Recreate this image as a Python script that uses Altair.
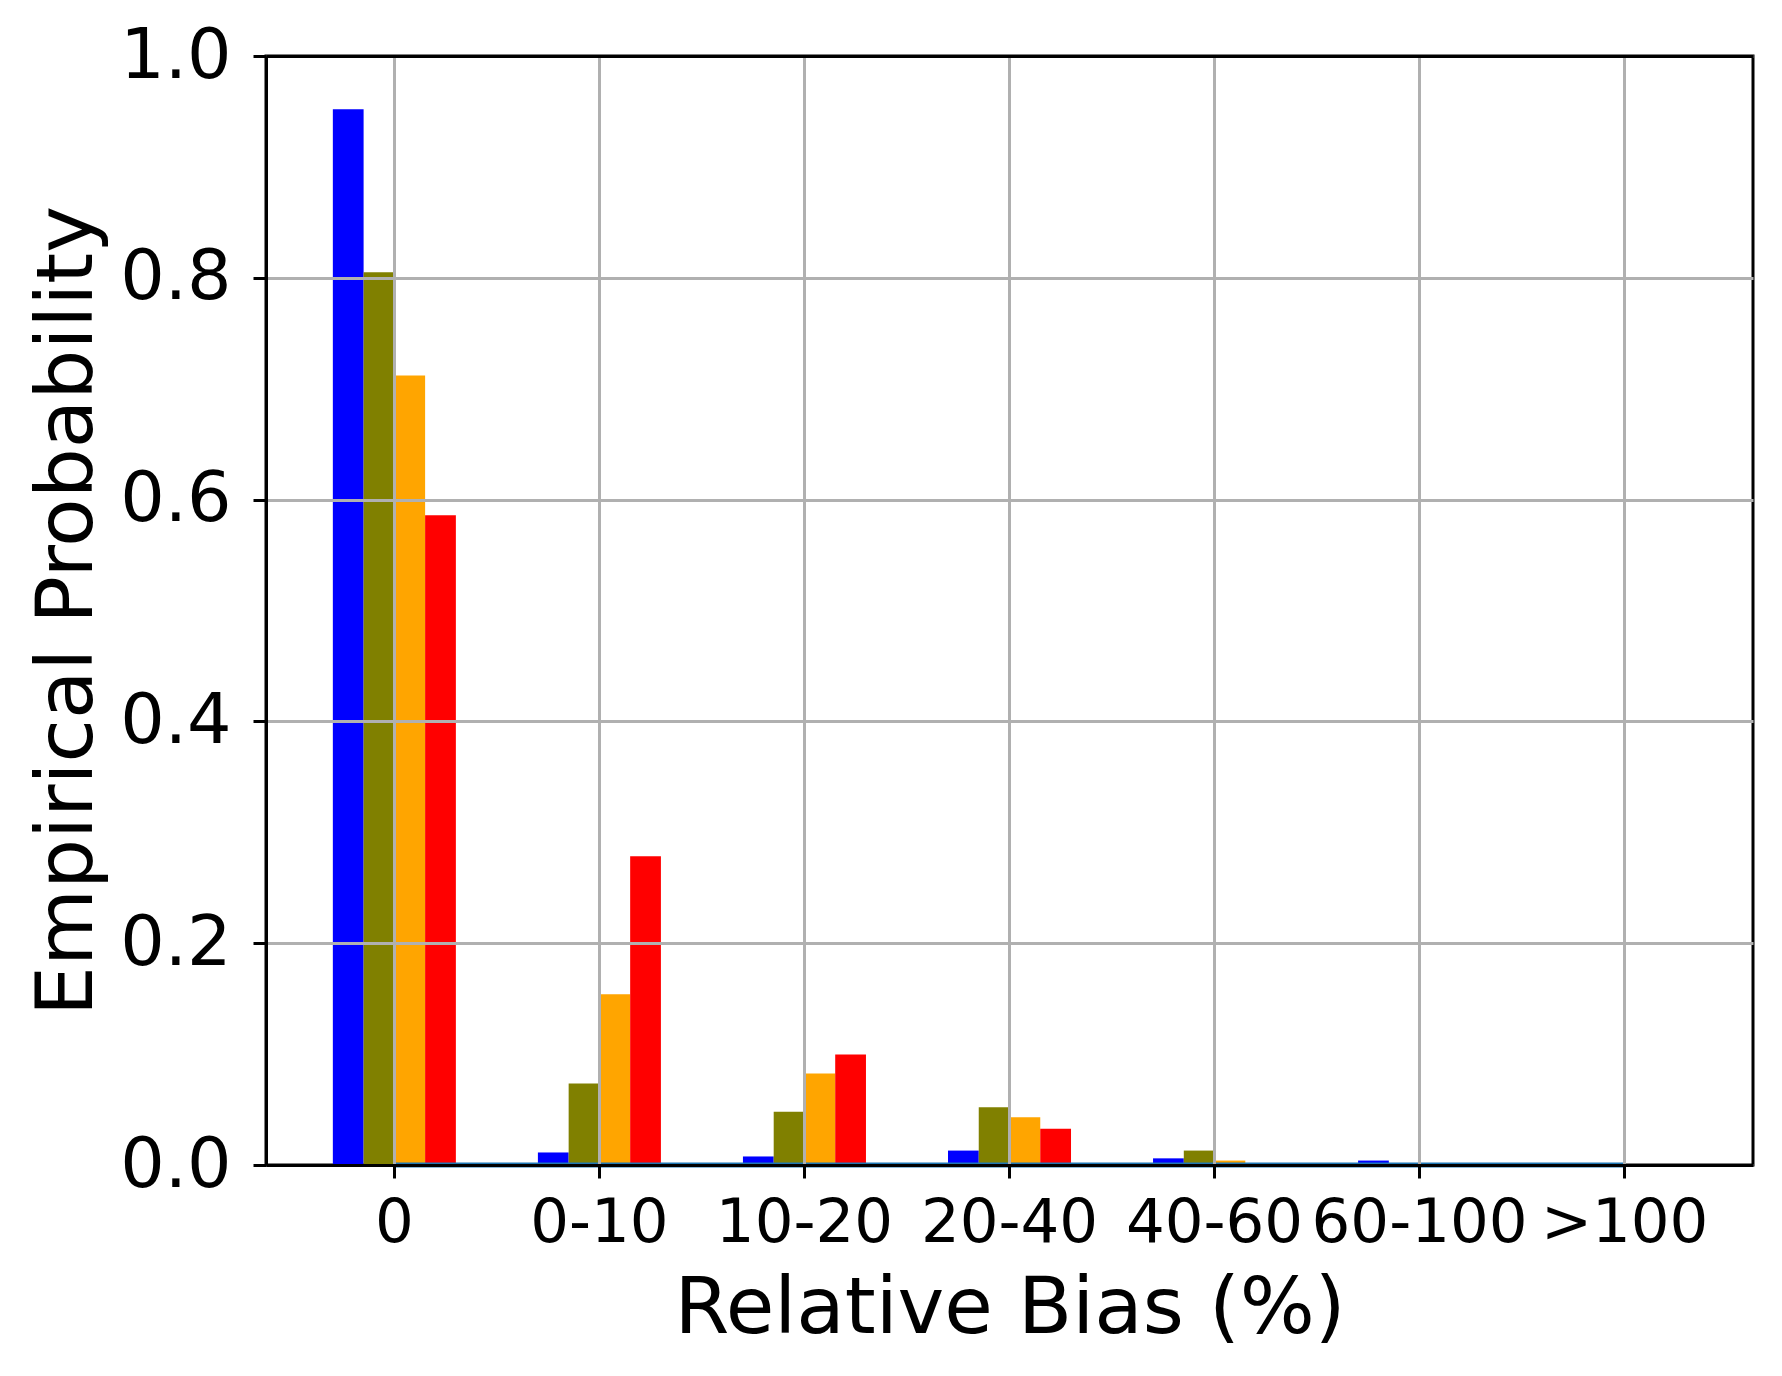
import altair as alt
import pandas as pd

categories = ["0", "0-10", "10-20", "20-40", "40-60", "60-100", ">100"]
series_names = ["S1", "S2", "S3", "S4"]
series_colors = ["#0000ff", "#808000", "#ffa500", "#ff0000"]

s1_vals = [0.952, 0.0113, 0.0077, 0.013, 0.006, 0.004, 0.0]
s2_vals = [0.805, 0.0735, 0.048, 0.052, 0.013, 0.0015, 0.0]
s3_vals = [0.712, 0.154, 0.0825, 0.043, 0.004, 0.0, 0.0]
s4_vals = [0.586, 0.2785, 0.0997, 0.0327, 0.0, 0.0, 0.0]
zero_line = [0, 0, 0, 0, 0, 0, 0]

rows = []
for name, vals in zip(series_names, [s1_vals, s2_vals, s3_vals, s4_vals]):
    for c, v in zip(categories, vals):
        rows.append({"category": c, "series": name, "value": v})
bars_df = pd.DataFrame(rows)
line_df = pd.DataFrame({"category": categories, "value": zero_line})

W = 1487
H = 1109

x_enc = alt.X(
    "category:N",
    sort=categories,
    scale=alt.Scale(paddingInner=0.4, paddingOuter=0.326),
    axis=alt.Axis(
        title="Relative Bias (%)",
        labelAngle=0,
        labelFontSize=61,
        labelPadding=15,
        labelColor="black",
        labelLimit=0,
        labelOverlap=False,
        tickSize=13,
        tickWidth=3,
        tickColor="black",
        domainColor="black",
        domainWidth=3,
        grid=True,
        gridColor="#b0b0b0",
        gridWidth=3,
        titleFontSize=79,
        titleFontWeight="normal",
        titleColor="black",
        titleBaseline="alphabetic",
        titleAlign="center",
        titleX=W / 2,
        titleY=167,
        zindex=1,
    ),
)

y_axis = alt.Axis(
    title="Empirical Probability",
    values=[0, 0.2, 0.4, 0.6, 0.8, 1.0],
    format=".1f",
    labelFontSize=70,
    labelPadding=22,
    labelColor="black",
    tickSize=13,
    tickWidth=3,
    tickColor="black",
    domainColor="black",
    domainWidth=3,
    grid=True,
    gridColor="#b0b0b0",
    gridWidth=3,
    titleFontSize=79,
    titleFontWeight="normal",
    titleColor="black",
    titleAngle=270,
    titleBaseline="alphabetic",
    titleAlign="center",
    titleX=-175,
    titleY=H / 2,
    zindex=1,
)

bars = alt.Chart(bars_df).mark_bar().encode(
    x=x_enc,
    xOffset=alt.XOffset(
        "series:N",
        sort=series_names,
        scale=alt.Scale(paddingInner=0, paddingOuter=0),
    ),
    y=alt.Y("value:Q", scale=alt.Scale(domain=[0, 1], nice=False, zero=True), axis=y_axis),
    color=alt.Color(
        "series:N",
        sort=series_names,
        scale=alt.Scale(domain=series_names, range=series_colors),
        legend=None,
    ),
)

top_axis = alt.Axis(
    orient="top",
    title=None,
    labels=False,
    ticks=False,
    grid=False,
    domain=True,
    domainColor="black",
    domainWidth=3,
    zindex=2,
)

line = alt.Chart(line_df).mark_line(color="#1f77b4", strokeWidth=5).encode(
    x=alt.X("category:N", sort=categories, axis=top_axis),
    y=alt.Y("value:Q"),
)

chart = (
    alt.layer(bars, line)
    .resolve_axis(x="independent")
    .properties(
        width=W,
        height=H,
        autosize=alt.AutoSizeParams(type="none"),
        padding={"left": 258, "top": 48, "right": 21, "bottom": 203},
        background="white",
    )
    .configure(font="DejaVu Sans")
    .configure_view(stroke="black", strokeWidth=3)
    .configure_bar(cornerRadius=0, strokeWidth=0)
)

chart.save("out.html", embed_options={"renderer": "svg", "actions": False})
